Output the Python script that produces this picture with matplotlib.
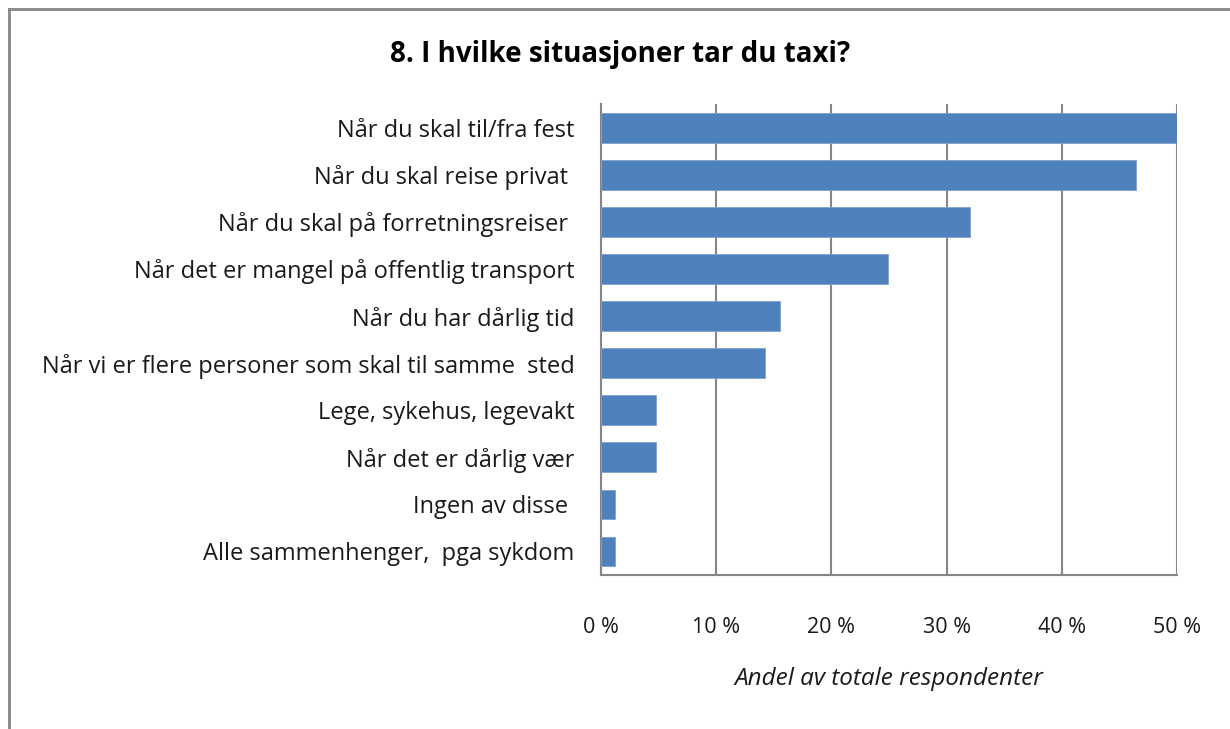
import matplotlib.pyplot as plt
from matplotlib.lines import Line2D

# Data (percent of respondents)
categories = [
    "Når du skal til/fra fest",
    "Når du skal reise privat ",
    "Når du skal på forretningsreiser ",
    "Når det er mangel på offentlig transport",
    "Når du har dårlig tid",
    "Når vi er flere personer som skal til samme  sted",
    "Lege, sykehus, legevakt",
    "Når det er dårlig vær",
    "Ingen av disse ",
    "Alle sammenhenger,  pga sykdom",
]
values = [50.0, 46.4, 32.0, 24.9, 15.5, 14.2, 4.8, 4.8, 1.2, 1.2]
ticks = [0, 10, 20, 30, 40, 50]
tick_labels = ["0 %", "10 %", "20 %", "30 %", "40 %", "50 %"]

plt.rcParams['font.family'] = ['Open Sans', 'DejaVu Sans']

fig = plt.figure(figsize=(12.3, 7.29), dpi=100)
ax = fig.add_axes([0.4886, 0.2113, 0.957 - 0.4886, 0.857 - 0.2113])

y = list(range(len(categories)))
ax.barh(y, values, height=0.63, color="#4F81BD", edgecolor="#7FA2CE",
        linewidth=0.6, zorder=3)
ax.set_ylim(len(categories) - 0.5, -0.5)
ax.set_xlim(0, 50)

ax.set_yticks(y)
ax.set_yticklabels(categories, fontsize=17, color="#1a1a1a")
ax.set_xticks(ticks)
ax.set_xticklabels(tick_labels, fontsize=15.5, color="#1a1a1a")
ax.tick_params(axis="both", length=0)
ax.tick_params(axis="y", pad=19)
ax.tick_params(axis="x", pad=30)

ax.grid(axis="x", color="#868686", linewidth=1.5, zorder=0)
for s in ["top", "right"]:
    ax.spines[s].set_visible(False)
ax.spines["left"].set_color("#868686")
ax.spines["left"].set_linewidth(1.5)
ax.spines["bottom"].set_color("#868686")
ax.spines["bottom"].set_linewidth(1.5)

ax.set_xlabel("Andel av totale respondenter", fontsize=17.5, style="italic",
              labelpad=21, color="#1a1a1a")

fig.text(0.504, 0.925, "8. I hvilke situasjoner tar du taxi?", ha="center",
         va="center", fontsize=20, fontweight="bold")

# outer chart border (only left and top visible in the crop)
fig.add_artist(Line2D([9 / 1230, 9 / 1230], [0, 1 - 9 / 729],
                      transform=fig.transFigure, color="#868686", linewidth=2))
fig.add_artist(Line2D([9 / 1230, 1], [1 - 9 / 729, 1 - 9 / 729],
                      transform=fig.transFigure, color="#868686", linewidth=2))

fig.savefig("out.png", dpi=100)
